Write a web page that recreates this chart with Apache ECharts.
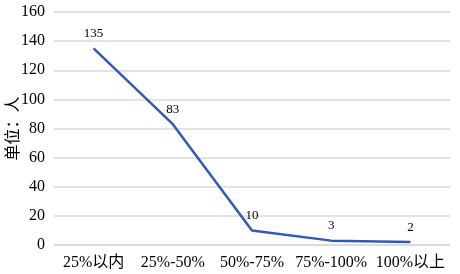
<!DOCTYPE html>
<html><head><meta charset="utf-8">
<script src="https://cdn.jsdelivr.net/npm/echarts@6/dist/echarts.min.js"></script>
<style>html,body{margin:0;padding:0;background:#fff}#c{width:460px;height:274px}</style>
</head><body><div id="c"></div>
<script>
var categories = ["25%以内", "25%-50%", "50%-75%", "75%-100%", "100%以上"];
var values = [135, 83, 10, 3, 2];
var yAxisName = "单位：人";
var ff = '"Liberation Serif","Times New Roman","Noto Sans CJK SC",serif';
var chart = echarts.init(document.getElementById('c'));
chart.setOption({
  animation: false,
  grid: {left: 54, right: 10, top: 12, bottom: 29, containLabel: false, outerBoundsMode: 'none'},
  xAxis: {
    type: 'category', data: categories, boundaryGap: true,
    axisLine: {show: true, lineStyle: {color: '#d9d9d9', width: 1.5}},
    axisTick: {show: false},
    axisLabel: {color: '#000', fontSize: 16, fontFamily: ff, margin: 10, interval: 0, hideOverlap: false}
  },
  yAxis: {
    type: 'value', min: 0, max: 160, interval: 20,
    name: yAxisName, nameLocation: 'middle', nameGap: 32, nameRotate: 90, nameMoveOverlap: false,
    nameTextStyle: {color: '#000', fontSize: 16, fontFamily: ff},
    axisLine: {show: false}, axisTick: {show: false},
    axisLabel: {color: '#000', fontSize: 16, fontFamily: ff, margin: 9},
    splitLine: {lineStyle: {color: '#d9d9d9', width: 1.5}}
  },
  series: [{
    type: 'line', data: values, symbol: 'circle', symbolSize: 1, showSymbol: true,
    itemStyle: {opacity: 0},
    lineStyle: {color: '#3359b5', width: 2.5},
    label: {show: true, position: 'top', distance: 8, color: '#000', fontSize: 13, fontFamily: ff, opacity: 1}
  }]
});
</script></body></html>
